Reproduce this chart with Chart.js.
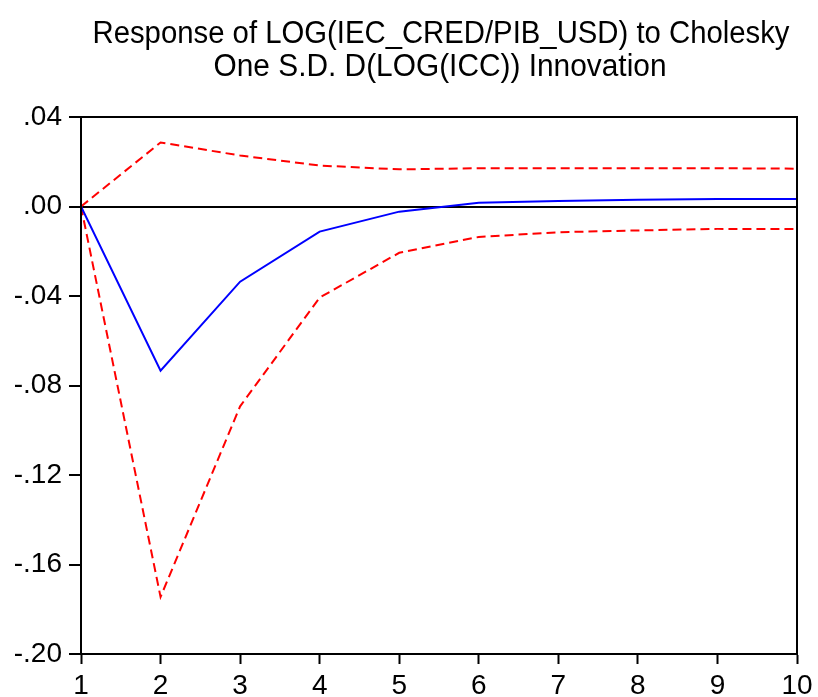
<!DOCTYPE html>
<html>
<head>
<meta charset="utf-8">
<script src="https://cdn.jsdelivr.net/npm/chart.js@4.4.0/dist/chart.umd.min.js"></script>
<style>
  body { margin: 0; background: #fff; }
  #wrap { width: 818px; height: 697px; }
</style>
</head>
<body>
<div id="wrap"><canvas id="chart" width="818" height="697"></canvas></div>
<script>
// periods and impulse response values
var periods = [1, 2, 3, 4, 5, 6, 7, 8, 9, 10];
var response = [0, -0.0734, -0.0336, -0.0112, -0.0023, 0.0017, 0.0025, 0.0030, 0.0034, 0.0034];
var upperBand = [0, 0.0286, 0.0228, 0.0183, 0.0166, 0.0171, 0.0171, 0.0171, 0.0171, 0.0169];
var lowerBand = [0, -0.1745, -0.0893, -0.0407, -0.0207, -0.0136, -0.0115, -0.0107, -0.0100, -0.0100];
var titleLines = ['Response of LOG(IEC_CRED/PIB_USD) to Cholesky', 'One S.D. D(LOG(ICC)) Innovation'];

function toPoints(vals) {
    return periods.map(function(p, i) { return { x: p, y: vals[i] }; });
}

// eviews style labels: .04, .00, -.04
function fmtTick(v) {
    var s = Math.abs(v).toFixed(2).replace(/^0/, '');
    return (v < -1e-9 ? '-' : '') + s;
}

var FONT = '"Liberation Sans", Arial, sans-serif';

// frame round the plot and the two title lines
var framePlugin = {
    id: 'frame',
    afterDraw: function(chart) {
        var c = chart.ctx, a = chart.chartArea;
        c.save();
        c.strokeStyle = '#000';
        c.lineWidth = 2;
        c.strokeRect(a.left, a.top, a.right - a.left, a.bottom - a.top);
        c.fillStyle = '#000';
        c.textAlign = 'center';
        c.textBaseline = 'alphabetic';
        c.font = '31px ' + FONT;
        c.fillText(titleLines[0], 441, 43, 697);
        c.fillText(titleLines[1], 440, 76, 453);
        c.restore();
    }
};

var ctx = document.getElementById('chart').getContext('2d');
var chart = new Chart(ctx, {
    type: 'line',
    data: {
        datasets: [
            {
                label: 'Response',
                data: toPoints(response),
                borderColor: '#0000ff',
                borderWidth: 2,
                pointRadius: 0,
                tension: 0
            },
            {
                label: '+2 S.E.',
                data: toPoints(upperBand),
                borderColor: '#ff0000',
                borderWidth: 2,
                borderDash: [9, 5],
                pointRadius: 0,
                tension: 0
            },
            {
                label: '-2 S.E.',
                data: toPoints(lowerBand),
                borderColor: '#ff0000',
                borderWidth: 2,
                borderDash: [9, 5],
                pointRadius: 0,
                tension: 0
            }
        ]
    },
    options: {
        responsive: false,
        animation: false,
        layout: { autoPadding: false, padding: { left: 0, right: 21, top: 117, bottom: 0 } },
        plugins: {
            legend: { display: false },
            title: { display: false },
            tooltip: { enabled: false }
        },
        scales: {
            x: {
                type: 'linear',
                min: 1,
                max: 10,
                afterFit: function(s) { s.height = 43; s.paddingLeft = 0; s.paddingRight = 0; },
                ticks: {
                    stepSize: 1,
                    color: '#000',
                    padding: 5,
                    font: { family: FONT, size: 28 }
                },
                grid: {
                    drawOnChartArea: false,
                    tickLength: 10,
                    tickColor: '#000',
                    tickWidth: 2
                },
                border: { display: true, color: '#000', width: 2 }
            },
            y: {
                min: -0.2,
                max: 0.04,
                afterFit: function(s) { s.width = 81; s.paddingTop = 0; s.paddingBottom = 0; },
                ticks: {
                    stepSize: 0.04,
                    color: '#000',
                    padding: 7,
                    font: { family: FONT, size: 28 },
                    callback: function(v) { return fmtTick(v); }
                },
                grid: {
                    color: function(c) { return c.tick && Math.abs(c.tick.value) < 1e-9 ? '#000' : 'rgba(0,0,0,0)'; },
                    lineWidth: 2,
                    tickLength: 12,
                    tickColor: '#000',
                    tickWidth: 2
                },
                border: { display: true, color: '#000', width: 2 }
            }
        }
    },
    plugins: [framePlugin]
});
</script>
</body>
</html>
